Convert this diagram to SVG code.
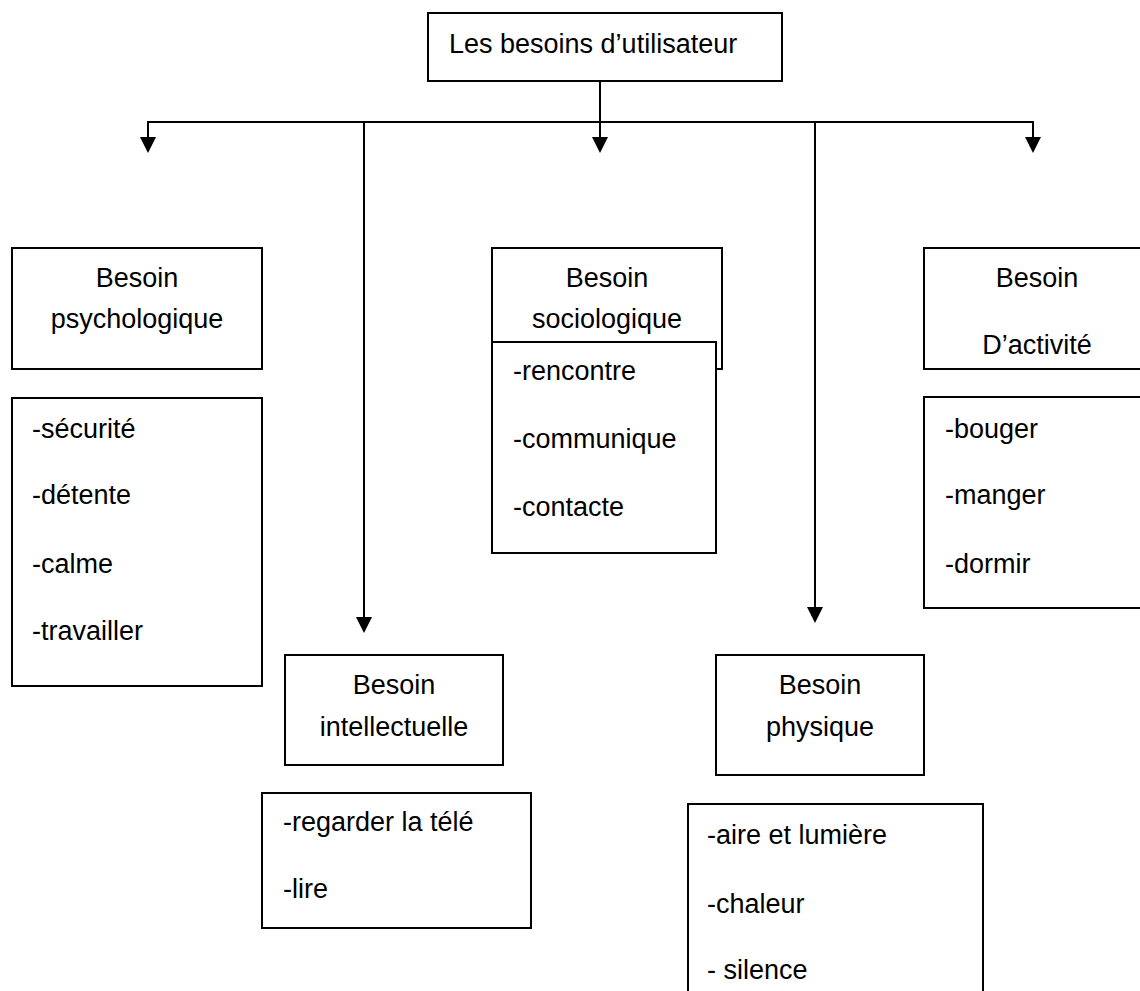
<svg xmlns="http://www.w3.org/2000/svg" width="1140" height="991" viewBox="0 0 1140 991">
<style>
.box{fill:#fff;stroke:#000;stroke-width:2}
.t{font-family:"Liberation Sans",Arial,sans-serif;font-size:27px;fill:#000}
.c{text-anchor:middle}
.ln{stroke:#000;stroke-width:2;fill:none}
</style>
<defs>
<marker id="ah" markerUnits="userSpaceOnUse" markerWidth="16" markerHeight="16" refX="2" refY="8" orient="auto" viewBox="0 0 16 16">
<path d="M0,0 L16,8 L0,16 z" fill="#000"/>
</marker>
</defs>
<rect width="1140" height="991" fill="#fff"/>
<g id="connectors">
<line class="ln" x1="600" y1="81" x2="600" y2="139" marker-end="url(#ah)"/>
<line class="ln" x1="147" y1="122" x2="1034" y2="122"/>
<line class="ln" x1="148" y1="121" x2="148" y2="139" marker-end="url(#ah)"/>
<line class="ln" x1="1033" y1="121" x2="1033" y2="139" marker-end="url(#ah)"/>
<line class="ln" x1="364" y1="122" x2="364" y2="619" marker-end="url(#ah)"/>
<line class="ln" x1="815" y1="122" x2="815" y2="609" marker-end="url(#ah)"/>
</g>
<g id="root">
<rect class="box" x="428" y="13" width="354" height="68"/>
<text class="t" x="449" y="53">Les besoins d’utilisateur</text>
</g>
<g id="psychologique">
<rect class="box" x="12" y="248" width="250" height="121"/>
<text class="t c" x="137" y="287">Besoin</text>
<text class="t c" x="137" y="328">psychologique</text>
</g>
<g id="psychologique-list">
<rect class="box" x="12" y="398" width="250" height="288"/>
<text class="t" x="32" y="438">-sécurité</text>
<text class="t" x="32" y="504">-détente</text>
<text class="t" x="32" y="573">-calme</text>
<text class="t" x="32" y="640">-travailler</text>
</g>
<g id="sociologique">
<rect class="box" x="492" y="248" width="230" height="121"/>
<text class="t c" x="607" y="287">Besoin</text>
<text class="t c" x="607" y="328">sociologique</text>
</g>
<g id="sociologique-list">
<rect class="box" x="492" y="342" width="224" height="211"/>
<text class="t" x="513" y="380">-rencontre</text>
<text class="t" x="513" y="448">-communique</text>
<text class="t" x="513" y="516">-contacte</text>
</g>
<g id="activite">
<rect class="box" x="924" y="248" width="230" height="121"/>
<text class="t c" x="1037" y="287">Besoin</text>
<text class="t c" x="1037" y="354">D’activité</text>
</g>
<g id="activite-list">
<rect class="box" x="924" y="397" width="230" height="211"/>
<text class="t" x="945" y="438">-bouger</text>
<text class="t" x="945" y="504">-manger</text>
<text class="t" x="945" y="573">-dormir</text>
</g>
<g id="intellectuelle">
<rect class="box" x="285" y="655" width="218" height="110"/>
<text class="t c" x="394" y="694">Besoin</text>
<text class="t c" x="394" y="736">intellectuelle</text>
</g>
<g id="intellectuelle-list">
<rect class="box" x="262" y="793" width="269" height="135"/>
<text class="t" x="283" y="831">-regarder la télé</text>
<text class="t" x="283" y="898">-lire</text>
</g>
<g id="physique">
<rect class="box" x="716" y="655" width="208" height="120"/>
<text class="t c" x="820" y="694">Besoin</text>
<text class="t c" x="820" y="736">physique</text>
</g>
<g id="physique-list">
<rect class="box" x="688" y="804" width="295" height="200"/>
<text class="t" x="707" y="844">-aire et lumière</text>
<text class="t" x="707" y="913">-chaleur</text>
<text class="t" x="707" y="979">- silence</text>
</g>
</svg>
